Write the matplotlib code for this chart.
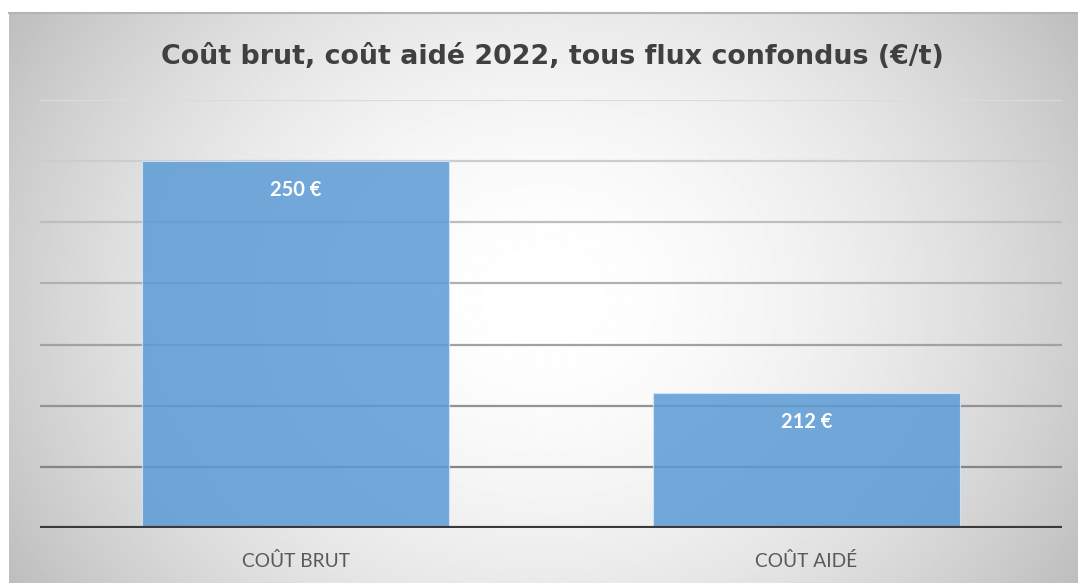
import matplotlib.pyplot as plt
import numpy as np

categories = ["COÛT BRUT", "COÛT AIDÉ"]
values = [250, 212]
labels = ["250 €", "212 €"]
y_min, y_max, y_step = 190, 260, 10

fig = plt.figure(figsize=(10.78, 5.83), dpi=100)
fig.patch.set_facecolor("white")

# fond dégradé façon Excel (clair au centre, gris sur les bords)
bg = fig.add_axes([9 / 1078, 0, 1 - 9 / 1078, 1 - 13 / 583])
yy, xx = np.mgrid[-1:1:300j, -1:1:600j]
r = np.sqrt(xx ** 2 + (yy / 1.6) ** 2)
shade = 1.0 - 0.19 * np.clip(r, 0, 1.2) ** 1.8
bg.imshow(shade, cmap="gray", vmin=0, vmax=1, aspect="auto", extent=[0, 1, 0, 1])
bg.axis("off")
fig.add_artist(plt.Line2D([9 / 1078, 1], [1 - 13 / 583] * 2, color="#b4b4b4", lw=1.5))

ax = fig.add_axes([40 / 1078, 1 - 528 / 583, (1062 - 40) / 1078, (528 - 100) / 583])
ax.patch.set_alpha(0)

x = np.arange(len(categories))
grid_vals = np.arange(y_min + y_step, y_max + 1, y_step)
for i, t in enumerate(grid_vals):
    # les lignes s'éclaircissent vers le haut
    g = 0.52 + 0.34 * i / (len(grid_vals) - 1)
    ax.axhline(t, color=(g, g, g), lw=1.6, zorder=0)
bars = ax.bar(x, values, width=0.6, color="#5B9BD5", alpha=0.85,
              edgecolor="#d6e7f7", linewidth=0.8, zorder=2)
ax.axhline(y_min, color="#3a3a3a", lw=3, zorder=3)

for b, lab in zip(bars, labels):
    ax.annotate(lab, (b.get_x() + b.get_width() / 2, b.get_height()),
                xytext=(0, -25), textcoords="offset points", ha="center",
                color="white", fontsize=14.5, fontweight="bold", family="Lato")

ax.set_xlim(-0.5, 1.5)
ax.set_ylim(y_min, y_max)
ax.set_xticks(x)
ax.set_xticklabels(categories, family="Lato", fontsize=13.8, color="#595959")
ax.tick_params(axis="x", length=0, pad=17)
ax.set_yticks([])
for s in ax.spines.values():
    s.set_visible(False)

fig.text(0.512, 1 - 57 / 583, "Coût brut, coût aidé 2022, tous flux confondus (€/t)",
         ha="center", va="center", fontsize=19.4, fontweight="bold", color="#404040",
         family="DejaVu Sans")

fig.savefig("out.png", dpi=100)
